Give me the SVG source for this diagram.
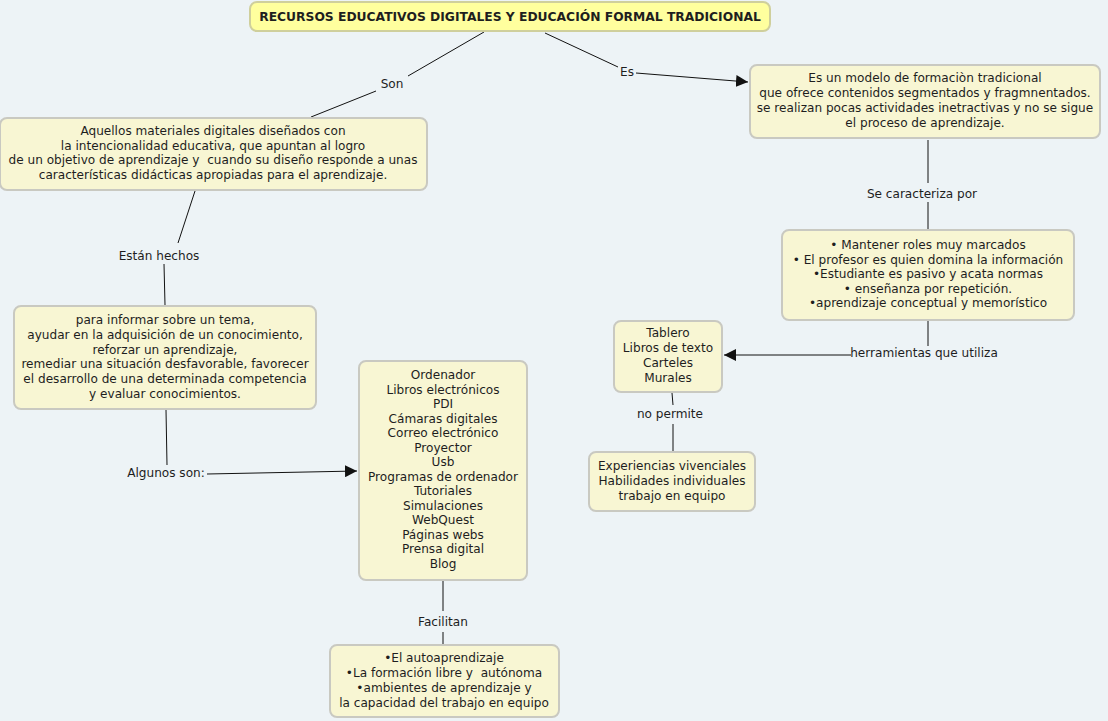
<svg xmlns="http://www.w3.org/2000/svg" width="1108" height="721" viewBox="0 0 1108 721">
<style>
.bg{fill:#edf3f6}
.node{fill:#f8f6d3;stroke:#c9c9c1;stroke-width:2}
.title{fill:#ffff9e;stroke:#cfcf9c;stroke-width:2}
text{font-family:"DejaVu Sans",Verdana,sans-serif;font-size:12.1px;fill:#1e1e1e;text-anchor:middle;white-space:pre}
.tt{font-weight:bold;font-size:12.3px}
.conn line{stroke:#111;stroke-width:1}
</style>
<defs>
<marker id="arr" viewBox="0 0 10 10" refX="10" refY="5" markerWidth="12" markerHeight="12" markerUnits="userSpaceOnUse" orient="auto">
<path d="M0,0 L10,5 L0,10 z" fill="#111"/>
</marker>
</defs>
<rect class="bg" x="0" y="0" width="1108" height="721"/>
<g id="connectors" class="conn">
<line x1="484" y1="32" x2="408" y2="76"/>
<line x1="376" y1="91" x2="311" y2="117"/>
<line x1="545" y1="33" x2="618" y2="67"/>
<line x1="636" y1="73" x2="748" y2="82" marker-end="url(#arr)"/>
<line x1="928" y1="140" x2="928" y2="183"/>
<line x1="928" y1="202" x2="928" y2="229"/>
<line x1="928" y1="321" x2="928" y2="346"/>
<line x1="851" y1="355" x2="724" y2="355" marker-end="url(#arr)"/>
<line x1="672" y1="393" x2="673" y2="405"/>
<line x1="673" y1="424" x2="673" y2="451"/>
<line x1="195" y1="191" x2="178" y2="243"/>
<line x1="164" y1="264" x2="165" y2="305"/>
<line x1="166" y1="410" x2="167" y2="465"/>
<line x1="207" y1="474" x2="357" y2="471" marker-end="url(#arr)"/>
<line x1="443" y1="581" x2="443" y2="611"/>
<line x1="443" y1="632" x2="443" y2="645"/>
<text x="392" y="88">Son</text>
<text x="627" y="76">Es</text>
<text x="922" y="198">Se caracteriza por</text>
<text x="924" y="357">herramientas que utiliza</text>
<text x="670" y="418">no permite</text>
<text x="159" y="260">Están hechos</text>
<text x="166" y="477">Algunos son:</text>
<text x="443" y="626">Facilitan</text>
</g>
<g id="n-title">
<rect class="title" x="250" y="2" width="520" height="29" rx="7"/>
<text class="tt" x="510" y="21">RECURSOS EDUCATIVOS DIGITALES Y EDUCACIÓN FORMAL TRADICIONAL</text>
</g>
<g id="n-recursos">
<rect class="node" x="0" y="118" width="427" height="72" rx="7"/>
<text x="213" y="135">Aquellos materiales digitales diseñados con</text>
<text x="213" y="149.5">la intencionalidad educativa, que apuntan al logro</text>
<text x="213" y="164">de un objetivo de aprendizaje y  cuando su diseño responde a unas</text>
<text x="213" y="178.5">características didácticas apropiadas para el aprendizaje.</text>
</g>
<g id="n-modelo">
<rect class="node" x="750" y="65" width="350" height="73" rx="7"/>
<text x="925" y="82">Es un modelo de formaciòn tradicional</text>
<text x="925" y="97">que ofrece contenidos segmentados y fragmnentados.</text>
<text x="925" y="112">se realizan pocas actividades inetractivas y no se sigue</text>
<text x="925" y="127">el proceso de aprendizaje.</text>
</g>
<g id="n-caracteristicas">
<rect class="node" x="782" y="230" width="292" height="90" rx="7"/>
<text x="928" y="249">• Mantener roles muy marcados</text>
<text x="928" y="264">• El profesor es quien domina la información</text>
<text x="928" y="278">•Estudiante es pasivo y acata normas</text>
<text x="928" y="293">• enseñanza por repetición.</text>
<text x="928" y="307">•aprendizaje conceptual y memorístico</text>
</g>
<g id="n-herramientas">
<rect class="node" x="614" y="321" width="108" height="71" rx="7"/>
<text x="668" y="337">Tablero</text>
<text x="668" y="352">Libros de texto</text>
<text x="668" y="367">Carteles</text>
<text x="668" y="382">Murales</text>
</g>
<g id="n-nopermite">
<rect class="node" x="589" y="452" width="166" height="59" rx="7"/>
<text x="672" y="470">Experiencias vivenciales</text>
<text x="672" y="485">Habilidades individuales</text>
<text x="672" y="500">trabajo en equipo</text>
</g>
<g id="n-hechos">
<rect class="node" x="14" y="306" width="302" height="103" rx="7"/>
<text x="165" y="324">para informar sobre un tema,</text>
<text x="165" y="339">ayudar en la adquisición de un conocimiento,</text>
<text x="165" y="354">reforzar un aprendizaje,</text>
<text x="165" y="368">remediar una situación desfavorable, favorecer</text>
<text x="165" y="383">el desarrollo de una determinada competencia</text>
<text x="165" y="398">y evaluar conocimientos.</text>
</g>
<g id="n-ejemplos">
<rect class="node" x="359" y="361" width="168" height="219" rx="7"/>
<text x="443" y="379">Ordenador</text>
<text x="443" y="393.5">Libros electrónicos</text>
<text x="443" y="408">PDI</text>
<text x="443" y="422.5">Cámaras digitales</text>
<text x="443" y="437">Correo electrónico</text>
<text x="443" y="451.5">Proyector</text>
<text x="443" y="466">Usb</text>
<text x="443" y="480.5">Programas de ordenador</text>
<text x="443" y="495">Tutoriales</text>
<text x="443" y="509.5">Simulaciones</text>
<text x="443" y="524">WebQuest</text>
<text x="443" y="538.5">Páginas webs</text>
<text x="443" y="553">Prensa digital</text>
<text x="443" y="567.5">Blog</text>
</g>
<g id="n-facilitan">
<rect class="node" x="330" y="645" width="229" height="72" rx="7"/>
<text x="444" y="662">•El autoaprendizaje</text>
<text x="444" y="677">•La formación libre y  autónoma</text>
<text x="444" y="692">•ambientes de aprendizaje y</text>
<text x="444" y="707">la capacidad del trabajo en equipo</text>
</g>
</svg>
